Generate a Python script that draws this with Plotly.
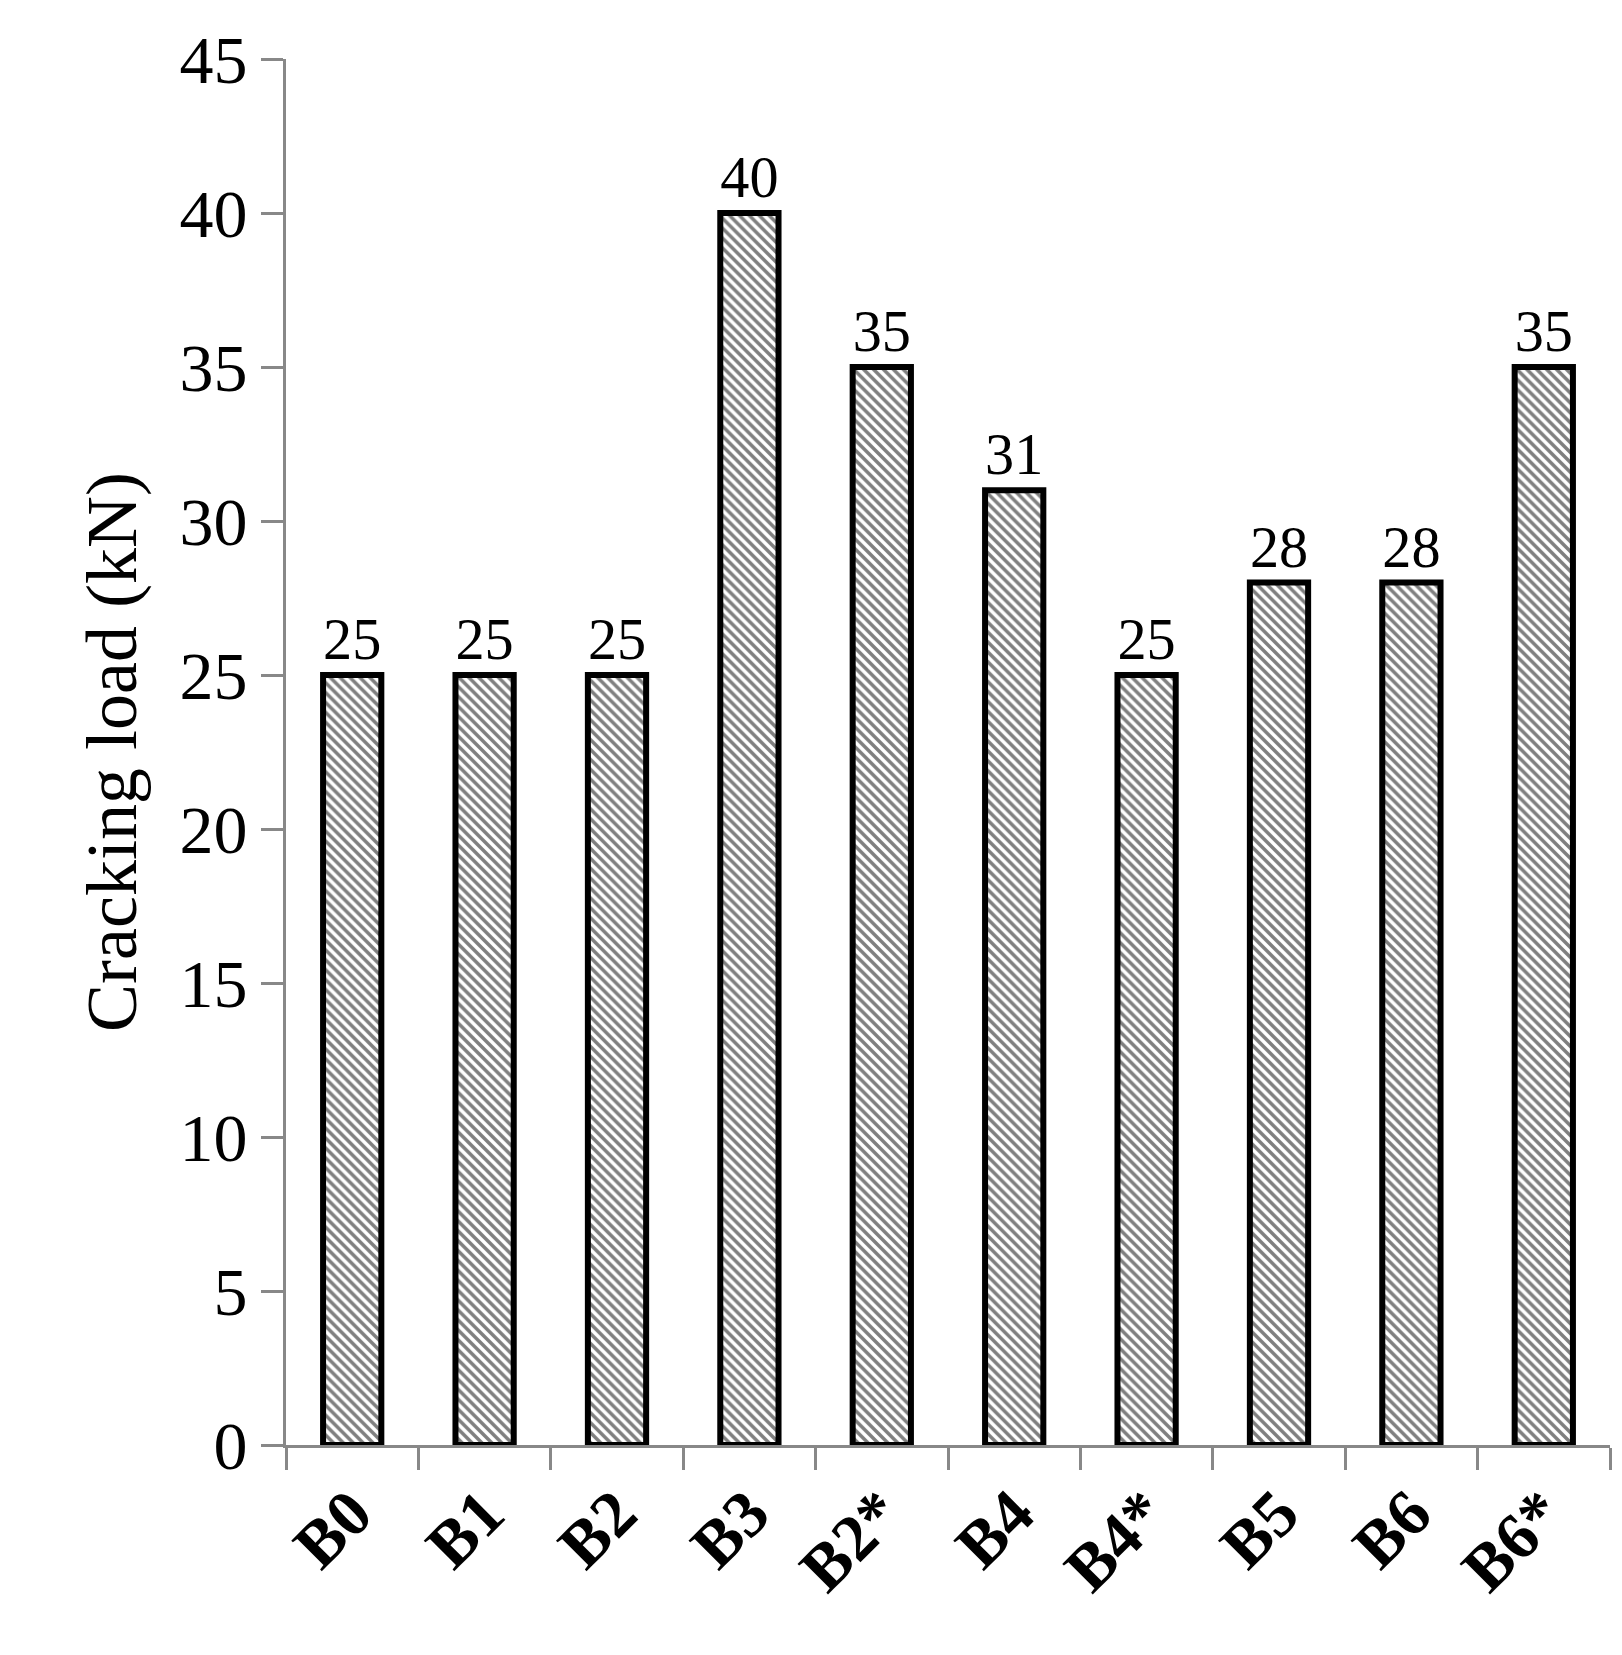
import plotly.graph_objects as go

categories = ["B0", "B1", "B2", "B3", "B2*", "B4", "B4*", "B5", "B6", "B6*"]
values = [25, 25, 25, 40, 35, 31, 25, 28, 28, 35]
y_ticks = [0, 5, 10, 15, 20, 25, 30, 35, 40, 45]

fig = go.Figure(go.Bar(
    x=categories, y=values, width=0.44,
    marker=dict(color="white", line=dict(color="black", width=6),
                pattern=dict(shape="\\", fgcolor="black", bgcolor="white", size=7, solidity=0.5)),
    text=[str(v) for v in values], textposition="outside", cliponaxis=False,
    textfont=dict(family="Liberation Serif", size=68, color="black"),
))
fig.update_layout(
    width=1622, height=1655, plot_bgcolor="white", paper_bgcolor="white",
    margin=dict(l=278, r=20, t=51, b=218), showlegend=False,
    font=dict(family="Liberation Serif", color="black"),
)
fig.update_yaxes(range=[0, 45], tickvals=y_ticks, showgrid=False, showline=True,
                 linecolor="#888888", linewidth=3, ticks="outside", ticklen=22,
                 tickcolor="#888888", tickwidth=3, tickfont=dict(size=68),
                 title=dict(text="Cracking load (kN)", font=dict(size=72), standoff=20))
fig.update_xaxes(showgrid=False, showline=True, linecolor="#888888", linewidth=3,
                 ticks="outside", ticklen=22, tickcolor="#888888", tickwidth=3,
                 tickson="boundaries", tickangle=-45,
                 tickfont=dict(size=66, family="Liberation Serif"))
fig.update_xaxes(ticktext=["<b>%s</b>" % c for c in categories], tickvals=categories)
fig.write_html("out.html")
